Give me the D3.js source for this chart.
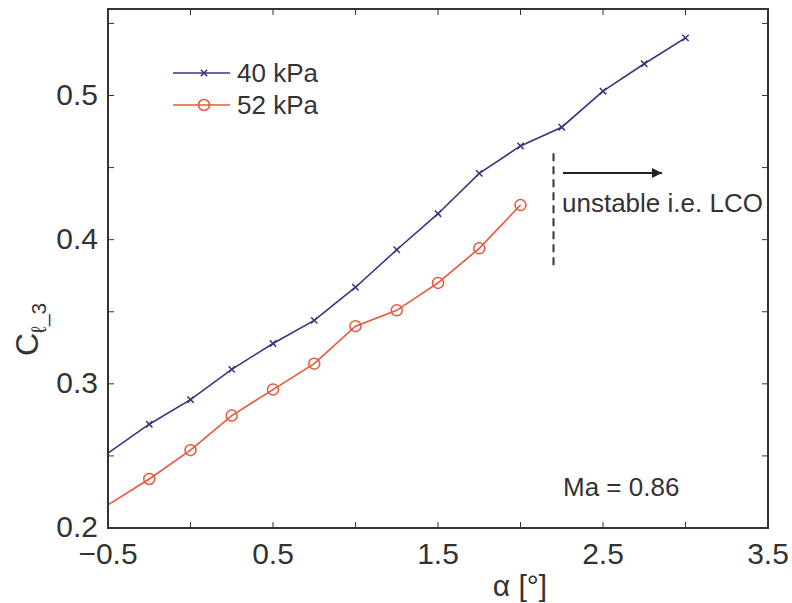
<!DOCTYPE html>
<html>
<head>
<meta charset="utf-8">
<script src="https://cdn.jsdelivr.net/npm/d3@7"></script>
<style>
  body { margin: 0; background: #fff; }
  svg { display: block; }
  text { font-family: "Liberation Sans", Arial, sans-serif; fill: #333; }
</style>
</head>
<body>
<svg id="chart" width="792" height="603"></svg>
<script>
// angle of attack values (deg)
const alpha40 = [-0.5, -0.25, 0, 0.25, 0.5, 0.75, 1.0, 1.25, 1.5, 1.75, 2.0, 2.25, 2.5, 2.75, 3.0];
const cl40 = [0.252, 0.272, 0.289, 0.310, 0.328, 0.344, 0.367, 0.393, 0.418, 0.446, 0.465, 0.478, 0.503, 0.522, 0.540];

const alpha52 = [-0.5, -0.25, 0, 0.25, 0.5, 0.75, 1.0, 1.25, 1.5, 1.75, 2.0];
const cl52 = [0.216, 0.234, 0.254, 0.278, 0.296, 0.314, 0.340, 0.351, 0.370, 0.394, 0.424];

const seriesNames = ["40 kPa", "52 kPa"];
const seriesColors = ["#3a3380", "#e8573c"];

const xTicks = [-0.5, 0, 0.5, 1, 1.5, 2, 2.5, 3, 3.5];
const xTickLabels = [-0.5, 0.5, 1.5, 2.5, 3.5];
const yTicks = [0.2, 0.25, 0.3, 0.35, 0.4, 0.45, 0.5, 0.55];
const yTickLabels = [0.2, 0.3, 0.4, 0.5];

const svg = d3.select("#chart");

// plot box
const boxL = 108, boxR = 768, boxT = 9, boxB = 528;
const x = d3.scaleLinear().domain([-0.5, 3.5]).range([boxL, boxR]);
const y = d3.scaleLinear().domain([0.2, 0.56]).range([boxB, boxT]);

const axisColor = "#333";
const tickLen = 6;

// ticks pointing inward on all four sides
const g = svg.append("g");
xTicks.forEach(t => {
  g.append("line").attr("x1", x(t)).attr("x2", x(t)).attr("y1", boxB).attr("y2", boxB - tickLen)
    .attr("stroke", axisColor).attr("stroke-width", 1);
  g.append("line").attr("x1", x(t)).attr("x2", x(t)).attr("y1", boxT).attr("y2", boxT + tickLen)
    .attr("stroke", axisColor).attr("stroke-width", 1);
});
yTicks.forEach(t => {
  g.append("line").attr("x1", boxL).attr("x2", boxL + tickLen).attr("y1", y(t)).attr("y2", y(t))
    .attr("stroke", axisColor).attr("stroke-width", 1);
  g.append("line").attr("x1", boxR).attr("x2", boxR - tickLen).attr("y1", y(t)).attr("y2", y(t))
    .attr("stroke", axisColor).attr("stroke-width", 1);
});

// tick labels
xTickLabels.forEach(t => {
  g.append("text").attr("x", x(t)).attr("y", 564).attr("text-anchor", "middle")
    .attr("font-size", 30).text(t < 0 ? "\u2212" + Math.abs(t) : t);
});
yTickLabels.forEach(t => {
  g.append("text").attr("x", 98).attr("y", y(t) + 9).attr("text-anchor", "end")
    .attr("font-size", 30).text(t.toFixed(1));
});

// data lines
const line = d3.line().x(d => x(d[0])).y(d => y(d[1]));
const data40 = alpha40.map((a, i) => [a, cl40[i]]);
const data52 = alpha52.map((a, i) => [a, cl52[i]]);

svg.append("path").datum(data40).attr("d", line).attr("fill", "none")
  .attr("stroke", seriesColors[0]).attr("stroke-width", 1.6);
svg.append("path").datum(data52).attr("d", line).attr("fill", "none")
  .attr("stroke", seriesColors[1]).attr("stroke-width", 1.6);

// markers (the first point sits on the axis and shows no marker)
const cross = d3.symbol().type(d3.symbolTimes).size(28);
svg.selectAll(".m40").data(data40.slice(1)).join("path")
  .attr("d", cross).attr("transform", d => `translate(${x(d[0])},${y(d[1])})`)
  .attr("fill", "none").attr("stroke", seriesColors[0]).attr("stroke-width", 1.5);
svg.selectAll(".m52").data(data52.slice(1)).join("circle")
  .attr("cx", d => x(d[0])).attr("cy", d => y(d[1])).attr("r", 5.5)
  .attr("fill", "none").attr("stroke", seriesColors[1]).attr("stroke-width", 1.5);

// box
svg.append("rect").attr("x", boxL).attr("y", boxT).attr("width", boxR - boxL).attr("height", boxB - boxT)
  .attr("fill", "none").attr("stroke", axisColor).attr("stroke-width", 2);

// legend
const legY = [73, 105];
seriesNames.forEach((name, i) => {
  svg.append("line").attr("x1", 173).attr("x2", 230).attr("y1", legY[i]).attr("y2", legY[i])
    .attr("stroke", seriesColors[i]).attr("stroke-width", 1.6);
  if (i === 0) {
    svg.append("path").attr("d", cross).attr("transform", `translate(204,${legY[i]})`)
      .attr("fill", "none").attr("stroke", seriesColors[i]).attr("stroke-width", 1.5);
  } else {
    svg.append("circle").attr("cx", 204).attr("cy", legY[i]).attr("r", 5.5)
      .attr("fill", "none").attr("stroke", seriesColors[i]).attr("stroke-width", 1.5);
  }
  svg.append("text").attr("x", 237).attr("y", legY[i] + 9).attr("font-size", 26).text(name);
});

// stability boundary and annotation
svg.append("line").attr("x1", x(2.2)).attr("x2", x(2.2)).attr("y1", y(0.46)).attr("y2", y(0.38))
  .attr("stroke", "#333").attr("stroke-width", 2).attr("stroke-dasharray", "8,5");

svg.append("defs").append("marker").attr("id", "arrow")
  .attr("viewBox", "0 0 10 10").attr("refX", 10).attr("refY", 5)
  .attr("markerWidth", 17).attr("markerHeight", 10).attr("markerUnits", "userSpaceOnUse")
  .attr("orient", "auto")
  .append("path").attr("d", "M0,0L10,5L0,10Z").attr("fill", "#222");
svg.append("line").attr("x1", 563).attr("x2", 662).attr("y1", 173).attr("y2", 173)
  .attr("stroke", "#222").attr("stroke-width", 2).attr("marker-end", "url(#arrow)");

svg.append("text").attr("x", 562).attr("y", 212).attr("font-size", 26).text("unstable i.e. LCO");
svg.append("text").attr("x", 563).attr("y", 496).attr("font-size", 26).text("Ma = 0.86");

// axis labels
svg.append("text").attr("x", 520).attr("y", 596).attr("text-anchor", "middle")
  .attr("font-size", 30).text("\u03b1 [\u00b0]");

const yl = svg.append("text").attr("transform", "translate(38,356) rotate(-90)").attr("font-size", 32);
yl.append("tspan").text("C");
yl.append("tspan").attr("font-size", 21).attr("dy", 8).text("\u2113_3");
</script>
</body>
</html>
